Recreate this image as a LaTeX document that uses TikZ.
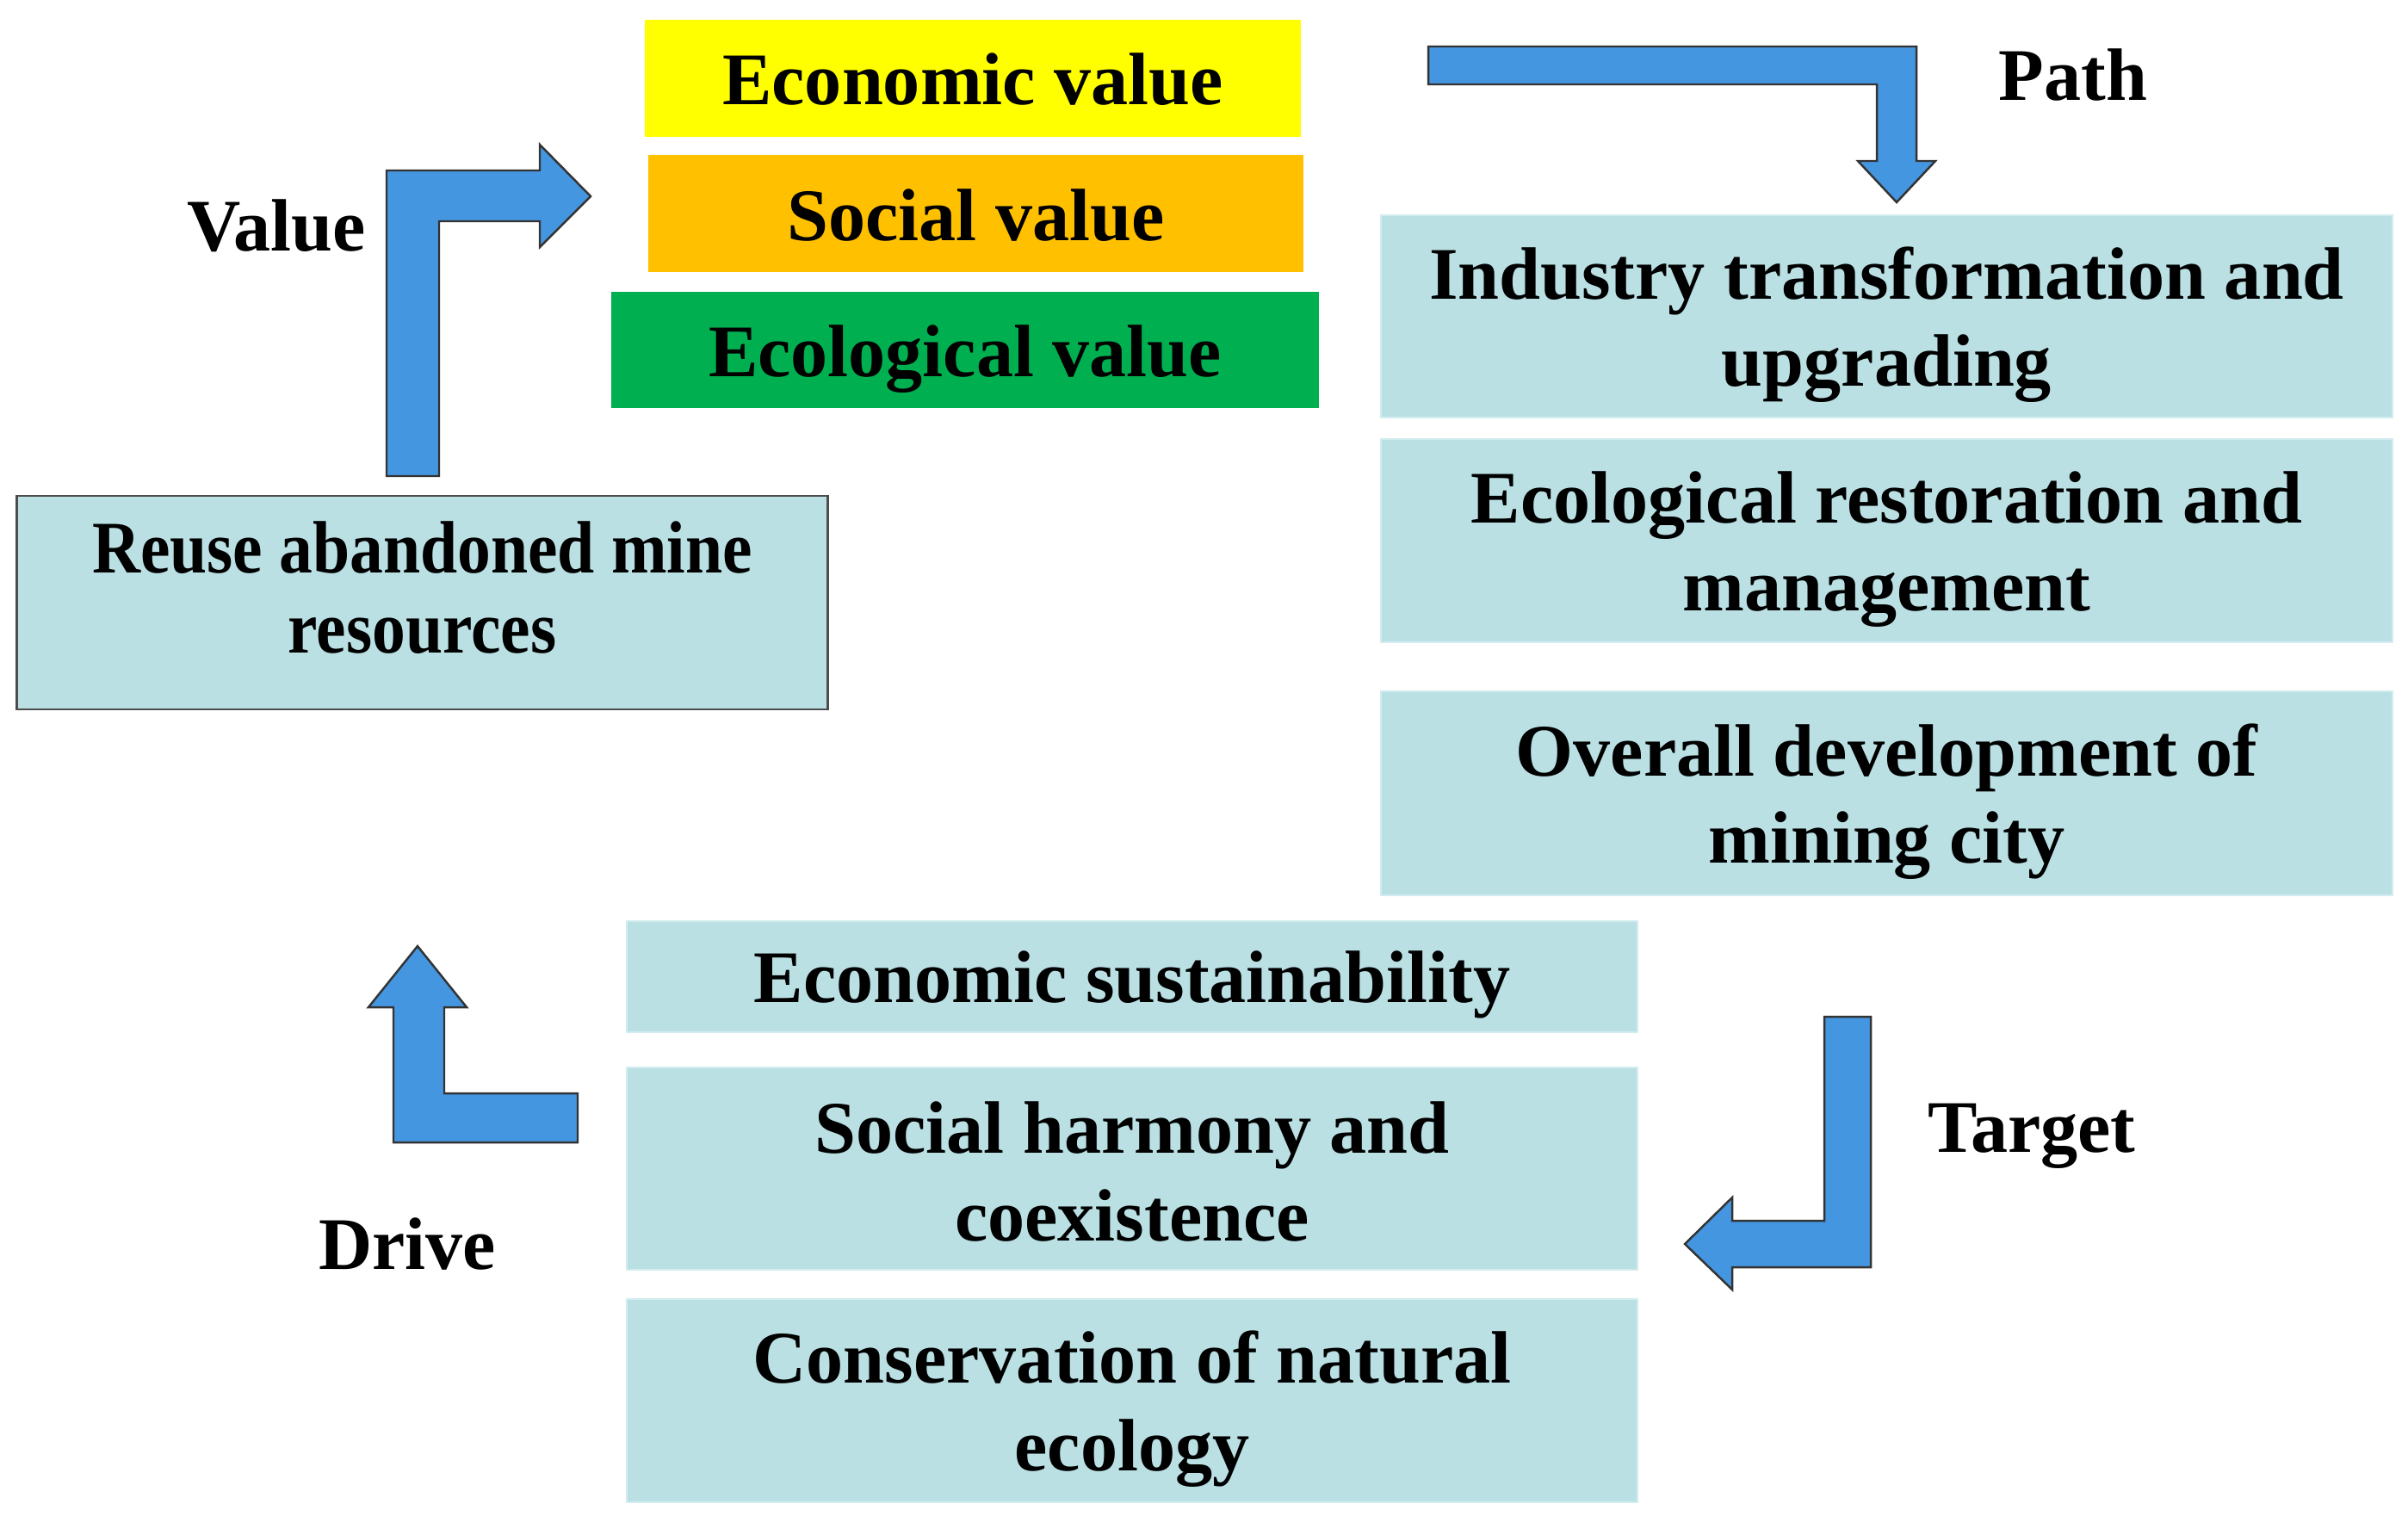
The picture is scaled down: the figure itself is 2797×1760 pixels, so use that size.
\documentclass[tikz,border=0pt]{standalone}
\usepackage{fontspec}
\setmainfont{Liberation Serif}
\definecolor{boxblue}{RGB}{186,224,228}
\definecolor{boxedge}{RGB}{210,236,239}
\definecolor{arrowblue}{RGB}{69,150,224}
\definecolor{ecoyellow}{RGB}{255,255,0}
\definecolor{socorange}{RGB}{255,192,0}
\definecolor{ecogreen}{RGB}{0,176,80}
\tikzset{
  ln/.style={font=\fontsize{24.5}{28.5}\selectfont\bfseries, anchor=base, text=black, inner sep=0pt},
  bluebox/.style={fill=boxblue, draw=boxedge, line width=0.6pt, inner sep=0pt},
  valbox/.style={inner sep=0pt},
  bigarrow/.style={fill=arrowblue, draw=black!80, line width=0.7pt, line join=miter}
}
\begin{document}
\begin{tikzpicture}[x=0.01cm, y=-0.01cm]
\useasboundingbox (0,0) rectangle (2797,1760);
% value boxes
\node[valbox, fill=ecoyellow, minimum width=7.62cm, minimum height=1.36cm] (eco) at (1130,91) {};
\node[ln] (ecot) at (1130,121) {Economic value};
\node[valbox, fill=socorange, minimum width=7.61cm, minimum height=1.36cm] (soc) at (1133.5,248) {};
\node[ln] (soct) at (1133.5,279) {Social value};
\node[valbox, fill=ecogreen, minimum width=8.22cm, minimum height=1.35cm] (ecol) at (1121,406.5) {};
\node[ln] (ecolt) at (1121,437) {Ecological value};
% reuse box
\node[fill=boxblue, draw=black!70, line width=0.8pt, minimum width=9.41cm, minimum height=2.48cm, inner sep=0pt] (reuse) at (490.5,700) {};
\node[ln] (reuse1) at (490.5,665) {\scalebox{0.9}[1]{Reuse abandoned mine}};
\node[ln] (reuse2) at (490.5,758) {\scalebox{0.9}[1]{resources}};
% path boxes
\node[bluebox, minimum width=11.75cm, minimum height=2.35cm] (ind) at (2191.5,367.5) {};
\node[ln] (ind1) at (2191.5,347) {Industry transformation and};
\node[ln] (ind2) at (2191.5,448) {upgrading};
\node[bluebox, minimum width=11.75cm, minimum height=2.36cm] (rest) at (2191.5,628) {};
\node[ln] (rest1) at (2191.5,607) {Ecological restoration and};
\node[ln] (rest2) at (2191.5,709) {management};
\node[bluebox, minimum width=11.75cm, minimum height=2.37cm] (over) at (2191.5,921.5) {};
\node[ln] (over1) at (2191.5,901) {Overall development of};
\node[ln] (over2) at (2191.5,1002) {mining city};
% target boxes
\node[bluebox, minimum width=11.74cm, minimum height=1.29cm] (sus) at (1315,1134.5) {};
\node[ln] (sust) at (1315,1164) {Economic sustainability};
\node[bluebox, minimum width=11.74cm, minimum height=2.35cm] (harm) at (1315,1357.5) {};
\node[ln] (harm1) at (1315,1339) {Social harmony and};
\node[ln] (harm2) at (1315,1441) {coexistence};
\node[bluebox, minimum width=11.74cm, minimum height=2.36cm] (cons) at (1315,1627) {};
\node[ln] (cons1) at (1315,1606) {Conservation of natural};
\node[ln] (cons2) at (1315,1708) {ecology};
% labels
\node[ln] (lvalue) at (321,291) {Value};
\node[ln] (lpath) at (2408,116) {Path};
\node[ln] (ldrive) at (473,1474) {Drive};
\node[ln] (ltarget) at (2360,1338) {Target};
% value arrow (up then right)
\draw[bigarrow] (449,553) -- (449,198) -- (627,198) -- (627,168) -- (686,228) -- (627,287) -- (627,257) -- (510,257) -- (510,553) -- cycle;
% path arrow (right then down)
\draw[bigarrow] (1659,54) -- (2226,54) -- (2226,187) -- (2248,187) -- (2203,235) -- (2158,187) -- (2180,187) -- (2180,98) -- (1659,98) -- cycle;
% target arrow (down then left)
\draw[bigarrow] (2119,1181) -- (2173,1181) -- (2173,1472) -- (2012,1472) -- (2012,1498) -- (1957,1445) -- (2012,1391) -- (2012,1418) -- (2119,1418) -- cycle;
% drive arrow (left then up)
\draw[bigarrow] (671,1270) -- (671,1327) -- (457,1327) -- (457,1170) -- (428,1170) -- (485,1099) -- (542,1170) -- (516,1170) -- (516,1270) -- cycle;
\end{tikzpicture}
\end{document}
